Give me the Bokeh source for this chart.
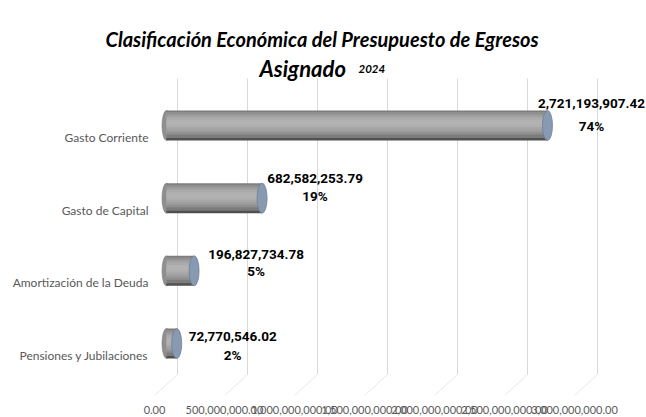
from bokeh.plotting import figure
from bokeh.models import Range1d, LinearAxis, FixedTicker, NumeralTickFormatter, ColumnDataSource, Title
from bokeh.core.properties import value
from bokeh.embed import file_html
from bokeh.resources import INLINE

# ---------------- data ----------------
categories = ["Gasto Corriente", "Gasto de Capital", "Amortización de la Deuda", "Pensiones y Jubilaciones"]
amounts = [2721193907.42, 682582253.79, 196827734.78, 72770546.02]
x_ticks = [0, 500000000, 1000000000, 1500000000, 2000000000, 2500000000, 3000000000]
title_line1 = "Clasificación Económica del Presupuesto  de Egresos"
title_line2 = "Asignado"
title_year = "2024"

# ---------------- layout / style constants (page pixels) ----------------
W, H = 646, 417
FT = 50                            # frame top
FL, BB = 150, 22                   # frame left, bottom border
FB = H - BB                        # frame bottom
PX_X = 70 / 5e8                    # px per unit on x
PX_Y = 72.67                       # px per category step
ZERO_PX = 177                      # x=0 gridline
TOP_CAT_PX = 137                   # first category centre
WALL_TOP_PX, WALL_BOTTOM_PX = 78, 374
FRONT_SHIFT = 23                   # 3D floor shift
BAR_OFF = 11                       # 3D bar shift left
BAR_UP = 12                        # 3D bar shift up
BAR_H = 30                         # bar thickness
AX_FONT = "Lato"
LBL_FONT = "Roboto"
TITLE_FONT = "Lato"

n = len(categories)
pos = [n - 1 - i for i in range(n)]
total = sum(amounts)

x_start = -(ZERO_PX - FL) / PX_X
x_end = x_start + (W - FL) / PX_X
y_end = (n - 1) + (TOP_CAT_PX - FT) / PX_Y
y_start = (n - 1) - (FB - TOP_CAT_PX) / PX_Y


def px_to_x(px):
    return x_start + (px - FL) / PX_X


def px_to_y(py):
    return (n - 1) - (py - TOP_CAT_PX) / PX_Y


p = figure(width=W, height=H, output_backend="svg", toolbar_location=None,
           x_range=Range1d(x_start, x_end), y_range=Range1d(y_start, y_end),
           x_axis_location=None, min_border_left=FL, min_border_top=FT,
           min_border_bottom=BB, min_border_right=0)
p.outline_line_color = None
p.xgrid.visible = False
p.ygrid.visible = False
p.background_fill_color = "white"
p.border_fill_color = "white"

# title line 1 (outside the frame, as a plot title)
p.add_layout(Title(text=title_line1, align="left", offset=105 - FL, standoff=0,
                   text_font=TITLE_FONT, text_font_style="bold italic", text_font_size="20px",
                   text_color="black"), "above")

# front (floor edge) axis for tick labels
front_shift = FRONT_SHIFT / PX_X
p.extra_x_ranges = {"front": Range1d(x_start + front_shift, x_end + front_shift)}
xa = LinearAxis(x_range_name="front", ticker=FixedTicker(ticks=x_ticks),
                formatter=NumeralTickFormatter(format="0,0.00"))
xa.axis_line_color = None
xa.major_tick_line_color = None
xa.minor_tick_line_color = None
xa.major_label_standoff = 4
xa.major_label_text_font = AX_FONT
xa.major_label_text_font_size = "11px"
xa.major_label_text_color = "#595959"
p.add_layout(xa, "below")

ya = p.yaxis[0]
ya.ticker = FixedTicker(ticks=pos)
ya.major_label_overrides = {pp: c for pp, c in zip(pos, categories)}
ya.axis_line_color = None
ya.major_tick_line_color = None
ya.minor_tick_line_color = None
ya.major_label_standoff = -4
ya.major_label_text_font = AX_FONT
ya.major_label_text_font_size = "12px"
ya.major_label_text_color = "#595959"

# title line 2 (inside frame area)
p.text(x=[px_to_x(259)], y=[px_to_y(68)], text=[title_line2],
       text_font=value(TITLE_FONT), text_font_style="bold italic", text_font_size="22px",
       text_align="left", text_baseline="alphabetic", text_color="black")
p.text(x=[px_to_x(358)], y=[px_to_y(68)], text=[title_year],
       text_font=value(TITLE_FONT), text_font_style="bold italic", text_font_size="11.5px",
       text_align="left", text_baseline="alphabetic", text_color="black")

# gridlines on back wall + floor diagonals
yw_top, yw_bot = px_to_y(WALL_TOP_PX), px_to_y(WALL_BOTTOM_PX)
nt = len(x_ticks)
p.segment(x0=x_ticks, y0=[yw_top] * nt, x1=x_ticks, y1=[yw_bot] * nt,
          line_color="#d9d9d9", line_width=1)
p.segment(x0=x_ticks, y0=[yw_bot] * nt, x1=[tk - front_shift for tk in x_ticks], y1=[y_start] * nt,
          line_color="#e6e6e6", line_width=1)

# cylinders
off = BAR_OFF / PX_X
bar_c = [pp + BAR_UP / PX_Y for pp in pos]
lefts = [-off] * n
rights = [a - off for a in amounts]

p.ellipse(x=lefts, y=bar_c, width=9, height=BAR_H, width_units="screen", height_units="screen",
          fill_color="#8f8f8f", line_color="#7a7a7a", line_width=0.6)

shades = ["#7c7c7c", "#8f8f8f", "#9f9f9f", "#aaaaaa", "#b1b1b1", "#b3b3b3",
          "#afafaf", "#a7a7a7", "#9d9d9d", "#909090", "#7c7c7c", "#505050"]
ns = len(shades)
sh = BAR_H / ns
for k, col in enumerate(shades):
    dy = (BAR_H / 2 - (k + 0.5) * sh) / PX_Y
    hh = sh if k in (0, ns - 1) else sh * 1.8
    p.hbar(y=[b + dy for b in bar_c], left=lefts, right=rights, height=hh / PX_Y,
           fill_color=col, line_color=None)

p.ellipse(x=rights, y=bar_c, width=10, height=BAR_H, width_units="screen", height_units="screen",
          fill_color="#8899b2", line_color="#6f7e96", line_width=0.8)

# data labels
lbl_dx = [44, 53, 62, 56]
val_dy = [-34, -32, -28, -19]
pct_dy = [-12, -14, -12, -1]
src = ColumnDataSource(dict(
    x=rights, y=pos,
    val=[f"{a:,.2f}" for a in amounts],
    pct=[f"{round(a / total * 100)}%" for a in amounts],
    dx=lbl_dx, vdy=val_dy, pdy=pct_dy))
p.text(x="x", y="y", text="val", x_offset="dx", y_offset="vdy", source=src,
       text_font=value(LBL_FONT), text_font_style="bold", text_font_size="13.5px",
       text_color="black", text_align="center", text_baseline="middle")
p.text(x="x", y="y", text="pct", x_offset="dx", y_offset="pdy", source=src,
       text_font=value(LBL_FONT), text_font_style="bold", text_font_size="13.5px",
       text_color="black", text_align="center", text_baseline="middle")

open("out.html", "w").write(file_html(p, INLINE))
